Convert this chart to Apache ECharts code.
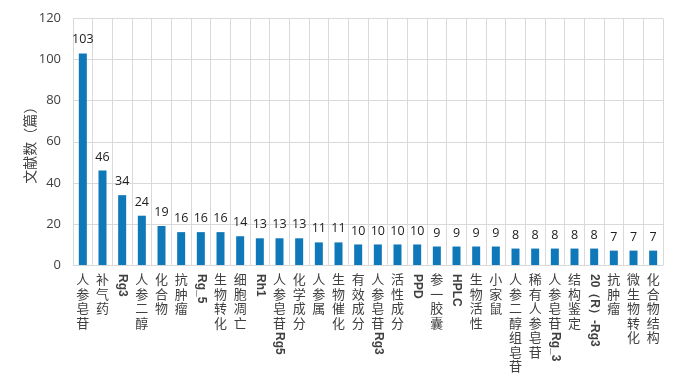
<!DOCTYPE html>
<html>
<head>
<meta charset="utf-8">
<script src="https://cdn.jsdelivr.net/npm/echarts@6/dist/echarts.min.js"></script>
<style>html,body{margin:0;padding:0;background:#fff}#c{width:676px;height:387px}</style>
</head>
<body>
<div id="c"></div>
<script>
const categories = ['人参皂苷','补气药','Rg3','人参二醇','化合物','抗肿瘤','Rg_5','生物转化','细胞凋亡','Rh1','人参皂苷Rg5','化学成分','人参属','生物催化','有效成分','人参皂苷Rg3','活性成分','PPD','参一胶囊','HPLC','生物活性','小家鼠','人参二醇组皂苷','稀有人参皂苷','人参皂苷Rg_3','结构鉴定','20（R）-Rg3','抗肿瘤','微生物转化','化合物结构'];
const counts = [103,46,34,24,19,16,16,16,14,13,13,13,11,11,10,10,10,10,9,9,9,9,8,8,8,8,8,7,7,7];
const yTicks = [0,20,40,60,80,100,120];

function splitLabel(s){
  if (/^[\x00-\x7F]/.test(s)) return {cjk:'', latin:s};
  const m = s.search(/[\x00-\x7F]/);
  if (m < 0) return {cjk:s, latin:''};
  return {cjk:s.slice(0,m), latin:s.slice(m)};
}
const parts = categories.map(splitLabel);
const LH = 14.5, BASE = 7;
const suffixLen = Math.max(...parts.filter(p=>p.cjk && p.latin).map(p=>p.cjk.length));

const chart = echarts.init(document.getElementById('c'));
const txt = '#404040';
const hidden = {axisLine:{show:false},axisTick:{show:false},splitLine:{show:false}};
chart.setOption({
  animation:false,
  grid:{left:73,right:13,top:18.5,bottom:122},
  xAxis:[
    {type:'category',data:categories,
     axisLine:{lineStyle:{color:'#d9d9d9'}},axisTick:{show:false},
     splitLine:{show:true,lineStyle:{color:'#d9d9d9',width:1}},
     axisLabel:{interval:0,margin:BASE,fontSize:13,lineHeight:LH,color:txt,verticalAlign:'top',
       fontFamily:'Noto Sans CJK SC',
       formatter:(v,i)=>parts[i].cjk.split('').join('\n')}},
    Object.assign({type:'category',data:categories,position:'bottom',
     axisLabel:{interval:0,rotate:-90,margin:BASE+2,fontSize:12,fontWeight:'bold',color:txt,fontFamily:'Liberation Sans',
       formatter:(v,i)=>parts[i].cjk?'':parts[i].latin}},hidden),
    Object.assign({type:'category',data:categories,position:'bottom',
     axisLabel:{interval:0,rotate:-90,margin:BASE+2+suffixLen*LH,fontSize:12,fontWeight:'bold',color:txt,fontFamily:'Liberation Sans',
       formatter:(v,i)=>parts[i].cjk?parts[i].latin:''}},hidden)
  ],
  yAxis:{type:'value',min:yTicks[0],max:yTicks[yTicks.length-1],interval:20,
    name:'文献数（篇）',nameLocation:'middle',nameGap:36,nameRotate:90,nameMoveOverlap:false,
    nameTextStyle:{fontSize:14,color:txt,fontFamily:'Noto Sans CJK SC'},
    axisLine:{show:false},axisTick:{show:false},
    splitLine:{lineStyle:{color:'#d9d9d9'}},
    axisLabel:{fontSize:13,color:txt,margin:12,fontFamily:'Open Sans'}},
  series:[{type:'bar',xAxisIndex:0,data:counts,barWidth:8,
    itemStyle:{color:'#0f78b9'},
    label:{show:true,position:'top',distance:7,fontSize:12.5,color:'#202020',fontFamily:'Open Sans'}}]
});
</script>
</body>
</html>
